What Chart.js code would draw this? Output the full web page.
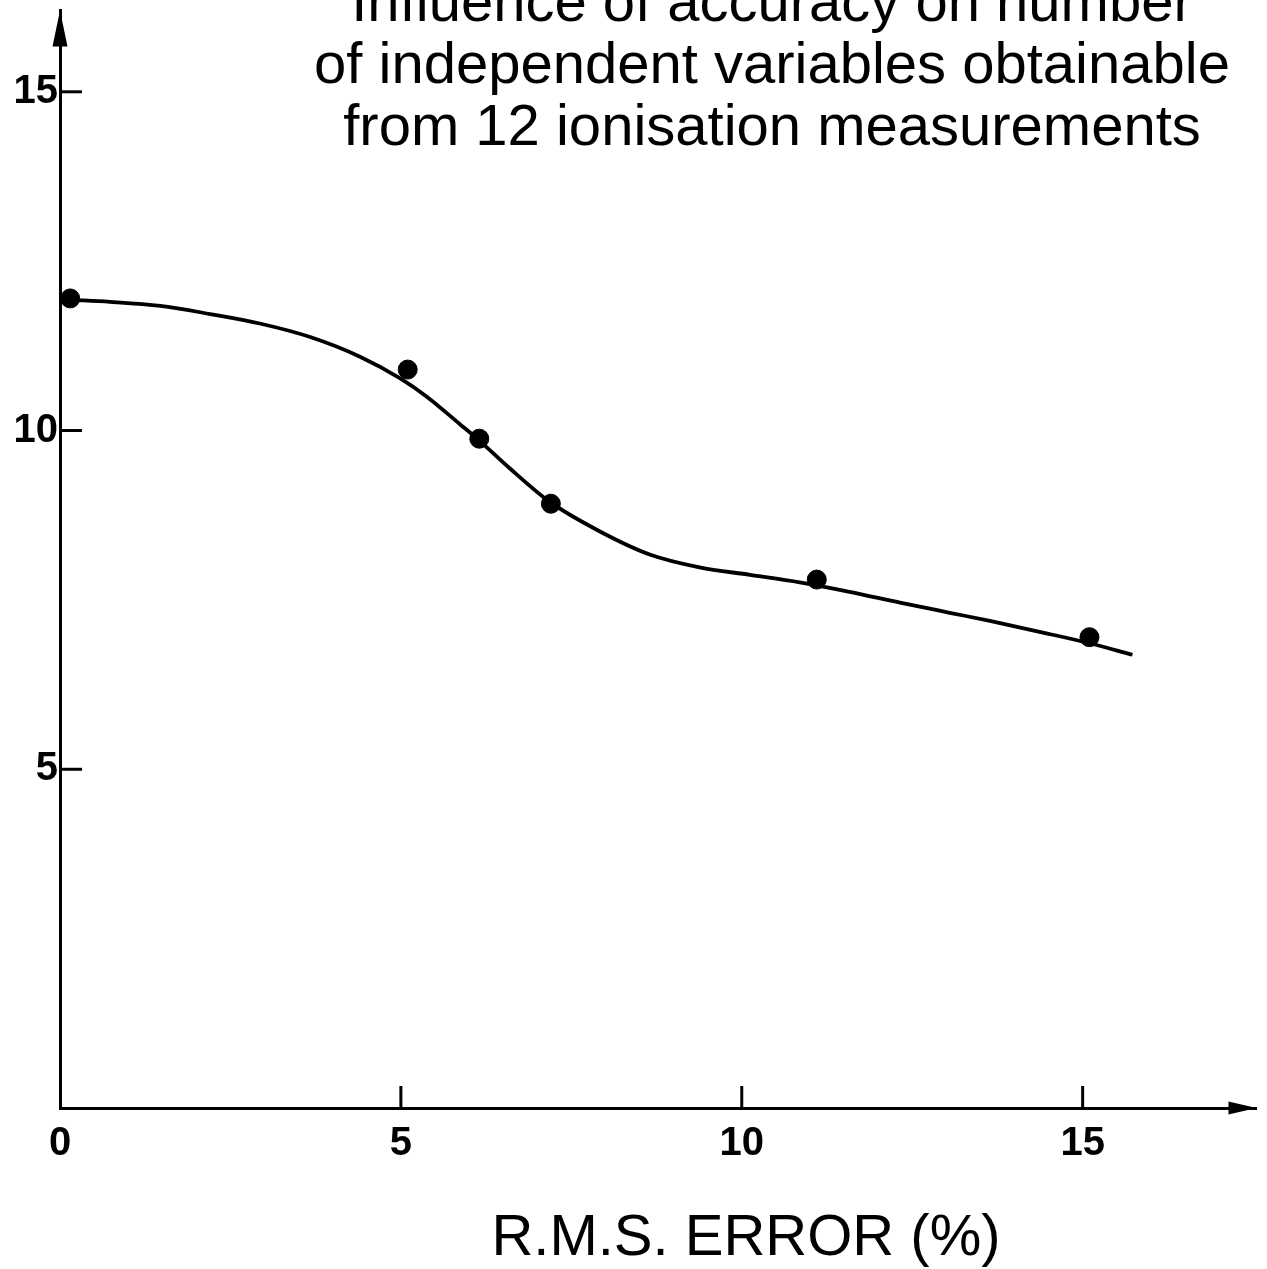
<!DOCTYPE html>
<html>
<head>
<meta charset="utf-8">
<script src="https://cdn.jsdelivr.net/npm/chart.js@4/dist/chart.umd.min.js"></script>
<style>
  html, body { margin: 0; padding: 0; background: #fff; }
  #wrap { width: 1267px; height: 1269px; position: relative; }
</style>
</head>
<body>
<div id="wrap"><canvas id="accuracyChart"></canvas></div>
<script>
/* Influence of accuracy on number of independent variables
   obtainable from 12 ionisation measurements */

// axis ticks
const xTicks = [0, 5, 10, 15];
const yTicks = [5, 10, 15];

// measured points (R.M.S. error %, number of variables)
const errorPct = [0.15, 5.1, 6.15, 7.2, 11.1, 15.1];
const nVariables = [11.95, 10.9, 9.88, 8.92, 7.8, 6.95];

// hand-drawn fitted curve
const fitX = [0.15, 0.73, 1.47, 2.2, 2.93, 3.67, 4.4, 4.99, 5.38, 5.87, 6.13, 6.6, 7.18, 7.92, 8.65, 9.38, 10.12, 10.85, 11.58, 12.32, 13.05, 13.64, 14.5, 15.1, 15.73];
const fitY = [11.93, 11.9, 11.84, 11.72, 11.58, 11.38, 11.09, 10.77, 10.5, 10.09, 9.87, 9.44, 8.95, 8.51, 8.17, 7.98, 7.87, 7.76, 7.62, 7.46, 7.31, 7.19, 7.0, 6.86, 6.69];

const titleLines = [
  'Influence of accuracy on number',
  'of independent variables obtainable',
  'from 12 ionisation measurements'
];
const xAxisTitle = 'R.M.S. ERROR (%)';

const INK = '#000';
const FONT = '"Liberation Sans", Arial, Helvetica, sans-serif';

// inward ticks, arrowheads and the text blocks
const figureDecor = {
  id: 'figureDecor',
  afterDraw(chart) {
    const { ctx, chartArea: a } = chart;
    const xs = chart.scales.x;
    const ys = chart.scales.y;
    ctx.save();
    ctx.strokeStyle = INK;
    ctx.fillStyle = INK;
    ctx.lineWidth = 3;

    yTicks.forEach((v) => {
      const py = ys.getPixelForValue(v);
      ctx.beginPath();
      ctx.moveTo(a.left, py);
      ctx.lineTo(a.left + 22, py);
      ctx.stroke();
    });
    xTicks.filter((v) => v > 0).forEach((v) => {
      const px = xs.getPixelForValue(v);
      ctx.beginPath();
      ctx.moveTo(px, a.bottom);
      ctx.lineTo(px, a.bottom - 22);
      ctx.stroke();
    });

    // arrow on y axis
    ctx.beginPath();
    ctx.moveTo(a.left, a.top);
    ctx.lineTo(a.left - 7.5, a.top + 36);
    ctx.lineTo(a.left + 7.5, a.top + 36);
    ctx.closePath();
    ctx.fill();
    // arrow on x axis
    ctx.beginPath();
    ctx.moveTo(a.right, a.bottom);
    ctx.lineTo(a.right - 28, a.bottom - 6.5);
    ctx.lineTo(a.right - 28, a.bottom + 6.5);
    ctx.closePath();
    ctx.fill();

    // title block
    ctx.font = '58px ' + FONT;
    ctx.textAlign = 'center';
    ctx.textBaseline = 'alphabetic';
    titleLines.forEach((t, i) => ctx.fillText(t, 772, 21 + i * 62));

    // x axis title
    ctx.fillText(xAxisTitle, 746, 1255);
    ctx.restore();
  }
};

new Chart(document.getElementById('accuracyChart'), {
  type: 'scatter',
  data: {
    datasets: [
      {
        label: 'Measured',
        data: errorPct.map((x, i) => ({ x, y: nVariables[i] })),
        backgroundColor: INK,
        borderColor: INK,
        pointRadius: 9.5,
        pointHoverRadius: 9.5,
        clip: false,
        order: 0
      },
      {
        label: 'Fit',
        data: fitX.map((x, i) => ({ x, y: fitY[i] })),
        showLine: true,
        borderColor: INK,
        borderWidth: 3.8,
        pointRadius: 0,
        cubicInterpolationMode: 'monotone',
        clip: false,
        order: 1
      }
    ]
  },
  options: {
    responsive: true,
    maintainAspectRatio: false,
    animation: false,
    layout: { padding: { top: 8, right: 10, left: 0, bottom: 0 } },
    plugins: {
      legend: { display: false },
      tooltip: { enabled: false },
      title: { display: false }
    },
    scales: {
      x: {
        type: 'linear',
        min: 0,
        max: 17.55,
        afterBuildTicks: (s) => { s.ticks = xTicks.map((value) => ({ value })); },
        afterFit: (s) => { s.height = 161; s.paddingLeft = 0; s.paddingRight = 0; },
        grid: { display: false, drawTicks: false },
        border: { display: true, color: INK, width: 3 },
        ticks: {
          color: INK,
          padding: 12,
          maxRotation: 0,
          font: { family: FONT, size: 40, weight: 'bold' }
        }
      },
      y: {
        type: 'linear',
        min: 0,
        max: 16.2,
        afterBuildTicks: (s) => { s.ticks = yTicks.map((value) => ({ value })); },
        afterFit: (s) => { s.width = 60; s.paddingTop = 0; s.paddingBottom = 0; },
        grid: { display: false, drawTicks: false },
        border: { display: true, color: INK, width: 3 },
        ticks: {
          color: INK,
          padding: 2,
          font: { family: FONT, size: 40, weight: 'bold' }
        }
      }
    }
  },
  plugins: [figureDecor]
});
</script>
</body>
</html>
